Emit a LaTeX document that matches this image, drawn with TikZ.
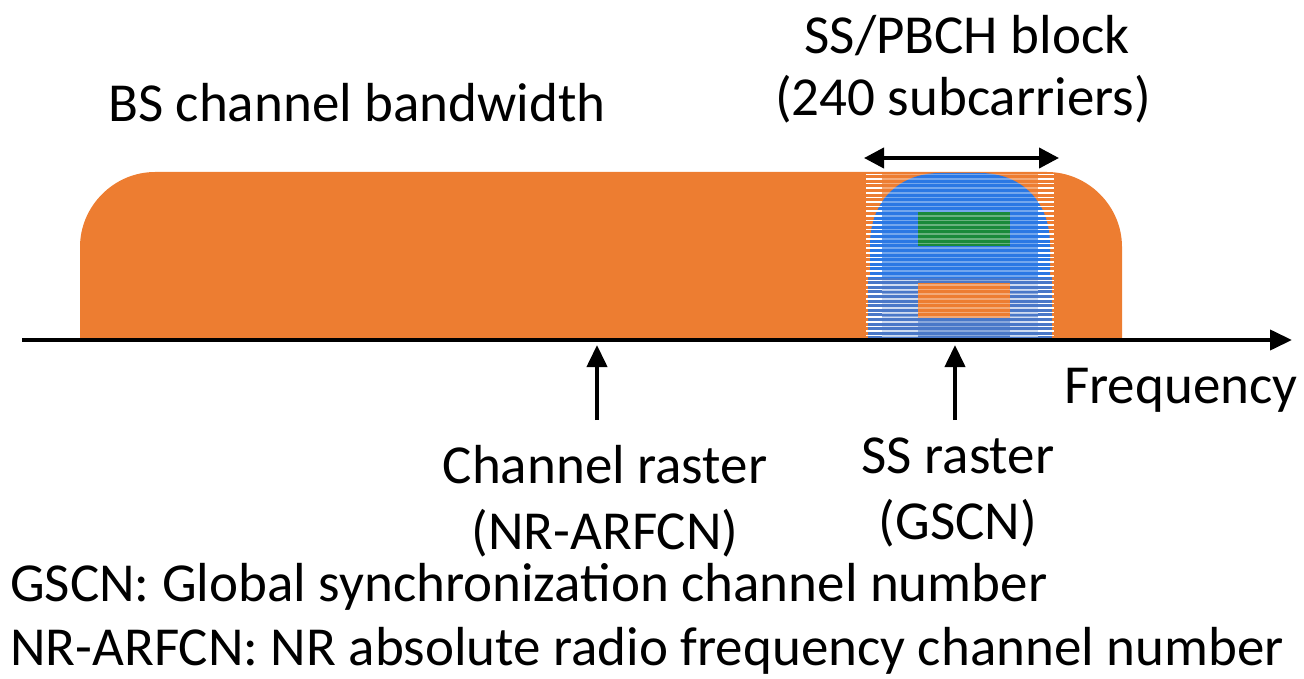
\documentclass[tikz,border=0pt]{standalone}
\usepackage{fontspec}
\setmainfont{Carlito}
\usetikzlibrary{arrows.meta}
\definecolor{bandorange}{HTML}{ED7D31}
\definecolor{ssblue}{HTML}{2B78E4}
\definecolor{sslow}{HTML}{4A78C8}
\definecolor{ssgreen}{HTML}{1A8A3A}
\tikzset{
  lbl/.style={font=\fontsize{55}{66}\selectfont, inner sep=0pt, align=center},
  axisline/.style={line width=4pt, -{Triangle[length=22pt,width=20pt]}},
  rasterarrow/.style={line width=4pt, -{Triangle[length=22pt,width=20pt]}},
  span/.style={line width=4pt, {Triangle[length=20pt,width=20pt]}-{Triangle[length=20pt,width=20pt]}},
  stripe/.style={white, line width=1.6pt}
}
\begin{document}
\begin{tikzpicture}[x=1pt,y=-1pt]
\useasboundingbox (0,0) rectangle (1304,679);

% channel bandwidth envelope
\fill[bandorange] (80,340) -- (80,247) .. controls (80,206) and (114,172) .. (155,172)
  -- (1047,172) .. controls (1088,172) and (1122,206) .. (1122,247) -- (1122,340) -- cycle;

% SS/PBCH block resource grid
\fill[sslow] (868,276) rectangle (1052,338);
\fill[ssblue] (870,278) -- (870,245) .. controls (870,200) and (900,173) .. (940,173)
  -- (980,173) .. controls (1020,173) and (1050,200) .. (1050,245) -- (1050,278) -- cycle;
\fill[ssgreen] (918,212) rectangle (1010,246);
\fill[bandorange] (918,283) rectangle (1010,318);
\foreach \yy in {174.5,179.1,...,338} {
  \draw[stripe, opacity=0.35] (868,\yy) -- (1052,\yy);
  \draw[stripe] (866,\yy) -- (882,\yy);
  \draw[stripe] (1038,\yy) -- (1054,\yy);
}
\foreach \yy in {280.5,285.1,...,338} {
  \draw[stripe, opacity=0.6] (882,\yy) -- (918,\yy);
  \draw[stripe, opacity=0.6] (1010,\yy) -- (1038,\yy);
}

% frequency axis
\coordinate (axL) at (22,340);
\coordinate (axR) at (1292,340);
\draw[axisline] (axL) -- (axR);

% texts
\node[lbl] (bw) at (357,103) {BS channel bandwidth};
\node[lbl] (ssb) at (967,36) {SS/PBCH block};
\node[lbl] (sub) at (963,99) {(240 subcarriers)};
\node[lbl, anchor=west] (freq) at (1064,390) {Frequency};
\node[lbl] (chr) at (605,501) {Channel raster\\(NR-ARFCN)};
\node[lbl] (ssr) at (958,492) {SS raster\\(GSCN)};
\node[lbl, anchor=west] (g1) at (10,587) {GSCN: Global synchronization channel number};
\node[lbl, anchor=west] (g2) at (10,651) {NR-ARFCN: NR absolute radio frequency channel number};

% raster markers
\coordinate (chTop) at (597,345);
\coordinate (chBot) at (597,420);
\coordinate (ssTop) at (955,345);
\coordinate (ssBot) at (955,420);
\draw[rasterarrow] (chBot) -- (chTop);
\draw[rasterarrow] (ssBot) -- (ssTop);

% block width
\coordinate (spL) at (864,158);
\coordinate (spR) at (1059,158);
\draw[span] (spL) -- (spR);
\end{tikzpicture}
\end{document}
